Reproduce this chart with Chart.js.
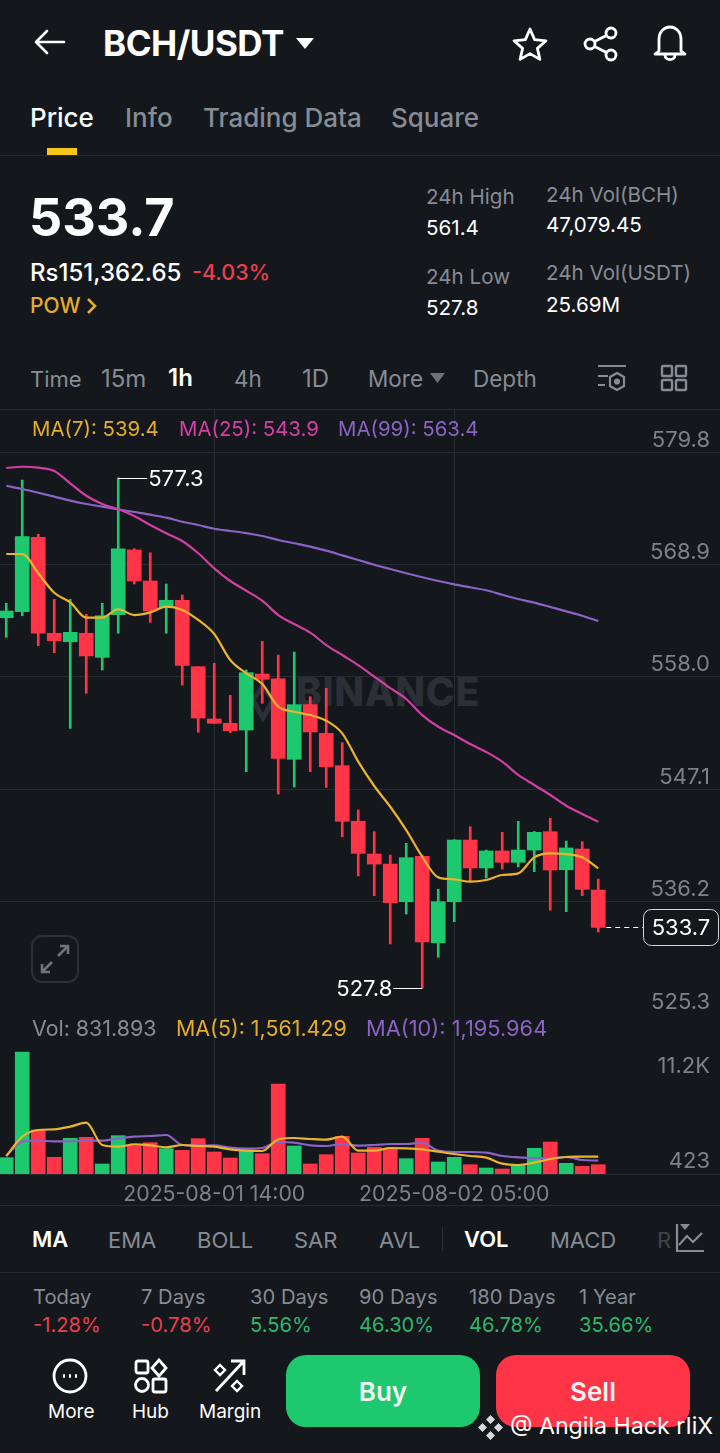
<!DOCTYPE html>
<html>
<head>
<meta charset="utf-8">
<title>BCH/USDT</title>
<script src="https://cdn.jsdelivr.net/npm/chart.js@4"></script>
<style>
html, body { margin: 0; padding: 0; background: #14171c; }
#page { position: relative; width: 720px; height: 1453px; overflow: hidden; background: #14171c; font-family: Inter, "Noto Sans", sans-serif; color: #868c94; }
#page canvas { position: absolute; left: 0; }
.t { position: absolute; transform: translateY(-50%); white-space: nowrap; line-height: 1; }
.line { position: absolute; left: 0; width: 720px; height: 1px; background: #262a31; }
.w { color: #fff; }
.g { color: #2fb56d; }
.r { color: #e8404f; }
.s18 { font-size: 20.6px; }
.btn { position: absolute; top: 1355px; height: 72px; border-radius: 20px; display: flex; align-items: center; justify-content: center; color: #f2f2f2; font-size: 26px; font-weight: 600; box-sizing: border-box; }
svg { position: absolute; fill: none; }
</style>
</head>
<body>
<div id="page">
    <div class="t" style="left:296px;top:691px;font-size:39px;font-weight:800;letter-spacing:0.6px;color:#2c2f35;">BINANCE</div>
    <svg style="left:250px;top:682px;" width="26" height="40" viewBox="0 0 26 40"><path d="M13 4 L23 18 L13 36 L3 18 Z" stroke="#2c2f35" stroke-width="5"/></svg>

    <canvas id="priceChart" width="720" height="605" style="top:409px"></canvas>
    <canvas id="volChart" width="720" height="191" style="top:1014px"></canvas>

    <svg style="left:33px;top:28px;" width="34" height="28" viewBox="0 0 34 28" stroke="#fff" stroke-width="2.6" stroke-linecap="round" stroke-linejoin="round"><path d="M31 14 H3 M14 3 L3 14 L14 25"/></svg>
    <div class="t w" style="left:103px;top:43px;font-size:35px;font-weight:700;letter-spacing:-0.5px;">BCH/USDT</div>
    <svg style="left:295px;top:37px;" width="20" height="13" viewBox="0 0 20 13"><path d="M1 1 H19 L10 12 Z" fill="#fff"/></svg>
    <svg style="left:512px;top:26px;" width="36" height="36" viewBox="0 0 36 36" stroke="#fff" stroke-width="2.8" stroke-linejoin="round"><path d="M18 3 L22.6 13.6 L34 14.8 L25.4 22.4 L27.9 33.4 L18 27.6 L8.1 33.4 L10.6 22.4 L2 14.8 L13.4 13.6 Z"/></svg>
    <svg style="left:583px;top:26px;" width="36" height="36" viewBox="0 0 36 36" stroke="#fff" stroke-width="2.8"><circle cx="7" cy="18" r="5"/><circle cx="28" cy="7" r="5"/><circle cx="28" cy="29" r="5"/><path d="M11.5 15.6 L23.5 9.4 M11.5 20.4 L23.5 26.6"/></svg>
    <svg style="left:652px;top:24px;" width="36" height="38" viewBox="0 0 36 38" stroke="#fff" stroke-width="2.8" stroke-linejoin="round"><path d="M7 27 V15 C7 8 12 3 18 3 C24 3 29 8 29 15 V27 L33 30 H3 Z"/><path d="M13 31 C13 37 23 37 23 31"/></svg>

    <div class="t w" style="left:30px;top:118px;font-size:26px;font-weight:500;">Price</div>
    <div class="t" style="left:125px;top:118px;font-size:26px;font-weight:500;">Info</div>
    <div class="t" style="left:203px;top:118px;font-size:26px;font-weight:500;">Trading Data</div>
    <div class="t" style="left:391px;top:118px;font-size:26px;font-weight:500;">Square</div>
    <div style="position:absolute;left:47px;top:148px;width:30px;height:7px;background:#f5c518;"></div>
    <div class="line" style="top:155px"></div>

    <div class="t w" style="left:29px;top:218px;font-size:52px;font-weight:700;">533.7</div>
    <div class="t w" style="left:30px;top:273px;font-size:24px;font-weight:500;">Rs151,362.65</div>
    <div class="t r" style="left:192px;top:273px;font-size:21.5px;font-weight:500;">-4.03%</div>
    <div class="t" style="left:30px;top:305px;font-size:21px;font-weight:500;color:#e5ad2b;">POW</div>
    <svg style="left:86px;top:297px;" width="12" height="18" viewBox="0 0 12 18" stroke="#e5ad2b" stroke-width="2.6"><path d="M2 2 L9 9 L2 16"/></svg>
    <div class="t s18" style="left:426px;top:197px;">24h High</div>
    <div class="t s18 w" style="left:426px;top:228px;">561.4</div>
    <div class="t s18" style="left:426px;top:277px;">24h Low</div>
    <div class="t s18 w" style="left:426px;top:308px;">527.8</div>
    <div class="t s18" style="left:546px;top:195px;">24h Vol(BCH)</div>
    <div class="t s18 w" style="left:546px;top:225px;">47,079.45</div>
    <div class="t s18" style="left:546px;top:273px;">24h Vol(USDT)</div>
    <div class="t s18 w" style="left:546px;top:305px;">25.69M</div>

    <div class="t" style="left:30px;top:379px;font-size:22px;">Time</div>
    <div class="t" style="left:101px;top:379px;font-size:24px;">15m</div>
    <div class="t w" style="left:168px;top:378px;font-size:24px;font-weight:600;">1h</div>
    <div class="t" style="left:234px;top:379px;font-size:22.5px;">4h</div>
    <div class="t" style="left:302px;top:379px;font-size:24px;">1D</div>
    <div class="t" style="left:368px;top:379px;font-size:22.5px;">More</div>
    <svg style="left:430px;top:372px;" width="15" height="12" viewBox="0 0 15 12"><path d="M0 1 H15 L7.5 11 Z" fill="#6f747b"/></svg>
    <div class="t" style="left:473px;top:379px;font-size:22.5px;">Depth</div>
    <svg style="left:597px;top:364px;" width="30" height="30" viewBox="0 0 30 30" stroke="#868c94" stroke-width="2.2"><path d="M1 2 H29 M1 12 H11 M1 21 H8"/><path d="M20 9 L27 13 V22 L20 26 L13 22 V13 Z"/><circle cx="20" cy="17.5" r="2" fill="#868c94"/></svg>
    <svg style="left:660px;top:364px;" width="28" height="28" viewBox="0 0 28 28" stroke="#868c94" stroke-width="2.4"><rect x="2" y="2" width="10" height="10" rx="1"/><rect x="16" y="2" width="10" height="10" rx="1"/><rect x="2" y="16" width="10" height="10" rx="1"/><rect x="16" y="16" width="10" height="10" rx="1"/></svg>
    <div class="line" style="top:409px"></div>

    <div class="t" style="left:32px;top:429px;font-size:20.4px;color:#e5ad2b;">MA(7): 539.4</div>
    <div class="t" style="left:179px;top:429px;font-size:20.4px;color:#d63fa6;">MA(25): 543.9</div>
    <div class="t" style="left:338px;top:429px;font-size:20.4px;color:#8a63c4;">MA(99): 563.4</div>

    <svg style="left:31px;top:935px;" width="48" height="48" viewBox="0 0 48 48" stroke="#2c3037" stroke-width="2"><rect x="1" y="1" width="46" height="46" rx="10"/><path d="M27 21 L36 12 M29 11 H37 V19 M21 27 L12 36 M11 29 V37 H19" stroke="#6f747b" stroke-width="2.6"/></svg>

    <div class="t" style="left:32px;top:1029px;font-size:21.4px;">Vol: 831.893</div>
    <div class="t" style="left:176px;top:1029px;font-size:21.4px;color:#e5ad2b;">MA(5): 1,561.429</div>
    <div class="t" style="left:366px;top:1029px;font-size:21.8px;color:#8a63c4;">MA(10): 1,195.964</div>
    <div class="line" style="top:1205px"></div>

    <div class="t w" style="left:32px;top:1239px;font-size:22px;font-weight:600;">MA</div>
    <div class="t" style="left:108px;top:1240px;font-size:22px;">EMA</div>
    <div class="t" style="left:197px;top:1240px;font-size:22px;">BOLL</div>
    <div class="t" style="left:294px;top:1240px;font-size:22px;">SAR</div>
    <div class="t" style="left:379px;top:1240px;font-size:22px;">AVL</div>
    <div style="position:absolute;left:442px;top:1227px;width:1px;height:24px;background:#2c3037;"></div>
    <div class="t w" style="left:464px;top:1239px;font-size:22px;font-weight:600;">VOL</div>
    <div class="t" style="left:550px;top:1240px;font-size:22px;">MACD</div>
    <div class="t" style="left:657px;top:1240px;font-size:22px;color:#3f4349;">R</div>
    <svg style="left:675px;top:1223px;" width="30" height="30" viewBox="0 0 30 30" stroke="#868c94" stroke-width="2.2"><path d="M2 1 V28 H29 M4 22 L12 13 L18 19 L27 10"/><path d="M5 1 H15 L10 7 Z" fill="#868c94" stroke="none"/></svg>
    <div class="line" style="top:1272px"></div>

    <div class="t" style="left:33px;top:1297px;font-size:20.2px;">Today</div>
    <div class="t" style="left:141px;top:1297px;font-size:20.2px;">7 Days</div>
    <div class="t" style="left:250px;top:1297px;font-size:20.2px;">30 Days</div>
    <div class="t" style="left:359px;top:1297px;font-size:20.2px;">90 Days</div>
    <div class="t" style="left:469px;top:1297px;font-size:20.2px;">180 Days</div>
    <div class="t" style="left:579px;top:1297px;font-size:20.2px;">1 Year</div>
    <div class="t r" style="left:33px;top:1325px;font-size:20.2px;">-1.28%</div>
    <div class="t r" style="left:141px;top:1325px;font-size:20.2px;">-0.78%</div>
    <div class="t g" style="left:250px;top:1325px;font-size:20.2px;">5.56%</div>
    <div class="t g" style="left:359px;top:1325px;font-size:20.2px;">46.30%</div>
    <div class="t g" style="left:469px;top:1325px;font-size:20.2px;">46.78%</div>
    <div class="t g" style="left:579px;top:1325px;font-size:20.2px;">35.66%</div>

    <svg style="left:52px;top:1358px;" width="36" height="36" viewBox="0 0 36 36" stroke="#fff" stroke-width="2.8"><circle cx="18" cy="18" r="16"/><path d="M11 18 H13 M17 18 H19 M23 18 H25" stroke-width="3.4"/></svg>
    <div class="t w" style="left:48px;top:1411px;font-size:19px;">More</div>
    <svg style="left:133px;top:1358px;" width="36" height="36" viewBox="0 0 36 36" stroke="#fff" stroke-width="2.8"><rect x="3" y="3" width="12" height="12" rx="2"/><path d="M26 2 L33 10 L26 18 L19 10 Z"/><circle cx="9" cy="27" r="6.5"/><rect x="20" y="21" width="13" height="13" rx="2"/></svg>
    <div class="t w" style="left:132px;top:1411px;font-size:19px;">Hub</div>
    <svg style="left:213px;top:1358px;" width="36" height="36" viewBox="0 0 36 36" stroke="#fff" stroke-width="2.8"><path d="M3 33 L30 4 M18 3 H31 V17"/><path d="M7 7 L12 12 L7 17 L2 12 Z M24 23 L29 28 L24 33 L19 28 Z" stroke-width="2.4"/></svg>
    <div class="t w" style="left:199px;top:1411px;font-size:19px;">Margin</div>

    <div class="btn" style="left:286px;width:194px;background:#1ec86e;">Buy</div>
    <div class="btn" style="left:496px;width:194px;background:#ff3547;">Sell</div>
    <svg style="left:477px;top:1414px;" width="27" height="27" viewBox="0 0 27 27"><path fill="#d9d9d9" d="M13.5 1 L18 5.5 L13.5 10 L9 5.5 Z M5.5 9 L10 13.5 L5.5 18 L1 13.5 Z M21.5 9 L26 13.5 L21.5 18 L17 13.5 Z M13.5 17 L18 21.5 L13.5 26 L9 21.5 Z"/></svg>
    <div class="t w" style="left:510px;top:1427px;font-size:23.2px;">@ Angila Hack rIiX</div>
</div>

<script>
// hourly candles, 2025-08-01 01:00 to 2025-08-02 14:00
const times = [
    '2025-08-01 01:00', '2025-08-01 02:00', '2025-08-01 03:00', '2025-08-01 04:00', '2025-08-01 05:00',
    '2025-08-01 06:00', '2025-08-01 07:00', '2025-08-01 08:00', '2025-08-01 09:00', '2025-08-01 10:00',
    '2025-08-01 11:00', '2025-08-01 12:00', '2025-08-01 13:00', '2025-08-01 14:00', '2025-08-01 15:00',
    '2025-08-01 16:00', '2025-08-01 17:00', '2025-08-01 18:00', '2025-08-01 19:00', '2025-08-01 20:00',
    '2025-08-01 21:00', '2025-08-01 22:00', '2025-08-01 23:00', '2025-08-02 00:00', '2025-08-02 01:00',
    '2025-08-02 02:00', '2025-08-02 03:00', '2025-08-02 04:00', '2025-08-02 05:00', '2025-08-02 06:00',
    '2025-08-02 07:00', '2025-08-02 08:00', '2025-08-02 09:00', '2025-08-02 10:00', '2025-08-02 11:00',
    '2025-08-02 12:00', '2025-08-02 13:00', '2025-08-02 14:00'
];
const opens = [
    563.73, 564.31, 571.53, 562.22, 561.40, 562.22, 559.89, 564.02, 570.30, 567.29,
    564.74, 565.42, 558.98, 553.91, 553.49, 552.84, 558.27, 557.81, 550.00, 555.30,
    552.52, 549.38, 543.99, 540.81, 539.84, 536.19, 540.59, 532.21, 536.19, 542.17,
    539.46, 541.11, 540.01, 541.20, 542.98, 539.29, 541.30, 537.32
];
const closes = [
    564.38, 571.59, 562.22, 561.50, 562.31, 560.02, 563.92, 570.42, 567.29, 564.38,
    565.42, 559.11, 554.00, 553.49, 552.77, 558.40, 557.76, 550.09, 555.30, 552.65,
    549.28, 543.99, 540.88, 539.84, 536.09, 540.46, 532.28, 536.19, 542.17, 539.46,
    541.11, 540.01, 541.20, 542.92, 539.26, 541.40, 537.39, 533.70
];
const highs = [
    565.13, 577.08, 571.82, 565.51, 565.51, 564.06, 565.13, 577.30, 570.42, 570.03,
    567.00, 565.93, 558.98, 559.31, 556.20, 558.66, 561.44, 560.11, 560.40, 556.07,
    556.88, 551.61, 545.08, 542.98, 540.72, 541.85, 540.70, 537.39, 542.20, 543.46,
    541.20, 542.92, 543.99, 543.00, 544.28, 542.07, 542.01, 538.39
];
const lows = [
    561.83, 563.92, 561.02, 560.34, 553.00, 556.40, 558.66, 562.22, 567.00, 563.28,
    562.22, 557.20, 552.62, 553.49, 552.58, 548.80, 555.43, 546.63, 547.31, 548.80,
    547.28, 542.49, 538.68, 536.77, 532.09, 535.00, 527.80, 530.80, 534.25, 538.13,
    538.49, 539.36, 539.58, 539.10, 535.38, 535.22, 536.77, 533.25
];
const ma7 = [
    569.91, 569.91, 568.04, 566.15, 565.22, 563.73, 563.73, 564.55, 563.99, 564.25,
    564.80, 564.48, 563.51, 562.15, 559.63, 558.34, 557.30, 555.10, 554.61, 554.29,
    553.74, 552.52, 549.77, 547.41, 545.40, 543.14, 540.55, 538.55, 538.36, 538.13,
    538.29, 538.78, 538.94, 540.49, 540.88, 540.81, 540.49, 539.43
];
const ma25 = [
    578.25, 578.37, 578.28, 577.96, 576.76, 575.56, 574.76, 574.24, 573.59, 572.72,
    571.92, 571.17, 569.98, 568.52, 567.29, 566.35, 565.38, 563.99, 563.12, 562.28,
    561.08, 560.11, 559.14, 558.01, 556.91, 555.85, 554.29, 553.16, 552.35, 551.48,
    550.71, 549.77, 548.48, 547.51, 546.54, 545.50, 544.69, 543.95
];
const ma99 = [
    576.53, 576.21, 575.85, 575.47, 575.08, 574.76, 574.50, 574.24, 573.98, 573.72,
    573.43, 573.04, 572.72, 572.36, 572.14, 571.94, 571.65, 571.27, 570.95, 570.62,
    570.23, 569.78, 569.33, 568.87, 568.45, 568.04, 567.65, 567.29, 566.97, 566.68,
    566.39, 565.96, 565.54, 565.19, 564.77, 564.35, 563.92, 563.40
];
const volumes = [
    1460, 10907, 3934, 1490, 3189, 3278, 894, 3427, 2503, 2801,
    2265, 2116, 3159, 1967, 1430, 2086, 1818, 8046, 2503, 894,
    1728, 3367, 1877, 2384, 2235, 1371, 3189, 1073, 1490, 834,
    536, 447, 775, 2295, 2861, 954, 685, 831.893
];
const volMa5 = [
    1609, 3338, 3934, 3993, 4232, 4589, 2593, 2444, 2652, 2563,
    2384, 2593, 2503, 2444, 2205, 2086, 2056, 3099, 3218, 3129,
    3069, 3338, 2086, 2086, 2324, 2295, 2205, 1997, 1788, 1609,
    1460, 924, 805, 1013, 1341, 1520, 1550, 1561
];
const volMa10 = [
    1609, 2891, 2980, 2920, 2920, 2980, 2980, 3189, 3338, 3397,
    3487, 2593, 2533, 2563, 2354, 2265, 2324, 2861, 2801, 2563,
    2503, 2682, 2533, 2593, 2682, 2682, 2801, 2086, 1967, 1967,
    1907, 1609, 1490, 1430, 1430, 1520, 1252, 1196
];
const priceTicks = [579.8, 568.9, 558.0, 547.1, 536.2, 525.3];
const timeTicks = [13, 28];
const highTag = { index: 7, value: 577.3 };
const lowTag = { index: 26, value: 527.8 };
const lastPrice = { index: 37, value: 533.7 };

const UP = '#1ec86e';
const DOWN = '#ff3547';
const GRID = '#262a31';
const AXIS_TEXT = '#7d8289';
const FONT = 'Inter, "Noto Sans", sans-serif';

// one candle every 16px, first one cut off at the left edge
const X_MIN = -0.39;
const X_MAX = 44.61;

const candleColors = closes.map((c, i) => c >= opens[i] ? UP : DOWN);

function series(values) {
    return values.map((v, i) => ({ x: i, y: v }));
}

function maLine(values, color) {
    return {
        type: 'line',
        data: series(values),
        borderColor: color,
        borderWidth: 2.2,
        pointRadius: 0,
        cubicInterpolationMode: 'monotone',
        order: 0
    };
}

function timeScale(showLabels, height) {
    return {
        type: 'linear',
        offset: false,
        min: X_MIN,
        max: X_MAX,
        afterBuildTicks: scale => { scale.ticks = timeTicks.map(v => ({ value: v })); },
        afterFit: scale => {
            scale.height = height;
            scale.paddingLeft = 0;
            scale.paddingRight = 0;
        },
        grid: { color: GRID, drawTicks: false, offset: false },
        border: { display: showLabels, color: GRID },
        ticks: {
            display: showLabels,
            autoSkip: false,
            maxRotation: 0,
            padding: 8,
            color: AXIS_TEXT,
            font: { family: FONT, size: 21.3 },
            callback: value => times[value]
        }
    };
}

// tick labels sit inside the chart, a bit off their gridline.
// width is forced to 0 so the negative padding pulls them back from the right edge
function insideScale(min, max, tickValues, labelOffset, showGrid, format) {
    return {
        type: 'linear',
        position: 'right',
        min: min,
        max: max,
        afterBuildTicks: scale => { scale.ticks = tickValues.map(v => ({ value: v })); },
        afterFit: scale => {
            scale.width = 0;
            scale.paddingTop = 0;
            scale.paddingBottom = 0;
        },
        grid: { display: showGrid, color: GRID, drawTicks: false },
        border: { display: false },
        ticks: {
            mirror: true,
            padding: -10,
            labelOffset: labelOffset,
            color: AXIS_TEXT,
            font: { family: FONT, size: 22 },
            callback: format
        }
    };
}

// high / low tags and the last price box
const priceTags = {
    id: 'priceTags',
    afterDatasetsDraw(chart) {
        const { ctx, scales: { x, y } } = chart;
        ctx.save();
        ctx.font = '22px ' + FONT;
        ctx.textBaseline = 'middle';
        ctx.fillStyle = '#fff';
        ctx.strokeStyle = '#fff';
        ctx.lineWidth = 1;

        const hx = x.getPixelForValue(highTag.index);
        const hy = Math.round(y.getPixelForValue(highTag.value)) + 0.5;
        ctx.beginPath();
        ctx.moveTo(hx, hy);
        ctx.lineTo(hx + 29, hy);
        ctx.stroke();
        ctx.textAlign = 'left';
        ctx.fillText(highTag.value.toFixed(1), hx + 30, hy + 1);

        const lx = x.getPixelForValue(lowTag.index);
        const ly = Math.round(y.getPixelForValue(lowTag.value)) + 0.5;
        ctx.beginPath();
        ctx.moveTo(lx, ly);
        ctx.lineTo(lx - 29, ly);
        ctx.stroke();
        ctx.textAlign = 'right';
        ctx.fillText(lowTag.value.toFixed(1), lx - 30, ly + 1);

        const px = x.getPixelForValue(lastPrice.index);
        const py = Math.round(y.getPixelForValue(lastPrice.value)) + 0.5;
        ctx.setLineDash([5, 4]);
        ctx.beginPath();
        ctx.moveTo(px + 8, py);
        ctx.lineTo(643, py);
        ctx.stroke();
        ctx.setLineDash([]);
        ctx.beginPath();
        ctx.roundRect(643.5, py - 18, 75, 36, 8);
        ctx.fillStyle = '#14171c';
        ctx.fill();
        ctx.strokeStyle = '#d5d7da';
        ctx.stroke();
        ctx.fillStyle = '#fff';
        ctx.textAlign = 'center';
        ctx.fillText(lastPrice.value.toFixed(1), 681, py + 1);
        ctx.restore();
    }
};

new Chart(document.getElementById('priceChart').getContext('2d'), {
    type: 'bar',
    data: {
        datasets: [
            {
                data: highs.map((h, i) => ({ x: i, y: [lows[i], h] })),
                backgroundColor: candleColors,
                barThickness: 2,
                grouped: false,
                order: 2
            },
            {
                data: opens.map((o, i) => ({ x: i, y: [o, closes[i]] })),
                backgroundColor: candleColors,
                barThickness: 14,
                grouped: false,
                order: 1
            },
            maLine(ma7, '#eeb32d'),
            maLine(ma25, '#d23fa4'),
            maLine(ma99, '#8a63c4')
        ]
    },
    options: {
        responsive: false,
        animation: false,
        events: [],
        layout: { padding: 0 },
        plugins: { legend: { display: false }, tooltip: { enabled: false } },
        scales: {
            x: timeScale(false, 0),
            y: insideScale(525.3, 583.97, priceTicks, -12, true, value => value.toFixed(1))
        }
    },
    plugins: [priceTags]
});

new Chart(document.getElementById('volChart').getContext('2d'), {
    type: 'bar',
    data: {
        datasets: [
            {
                data: series(volumes),
                backgroundColor: candleColors,
                barThickness: 14,
                order: 1
            },
            maLine(volMa5, '#eeb32d'),
            maLine(volMa10, '#8a63c4')
        ]
    },
    options: {
        responsive: false,
        animation: false,
        events: [],
        layout: { padding: 0 },
        plugins: { legend: { display: false }, tooltip: { enabled: false } },
        scales: {
            x: timeScale(true, 31),
            y: insideScale(0, 14304, [423], -8, false, () => '423'),
            yTop: insideScale(0, 14304, [11200], 18, false, () => '11.2K')
        }
    }
});
</script>
</body>
</html>
